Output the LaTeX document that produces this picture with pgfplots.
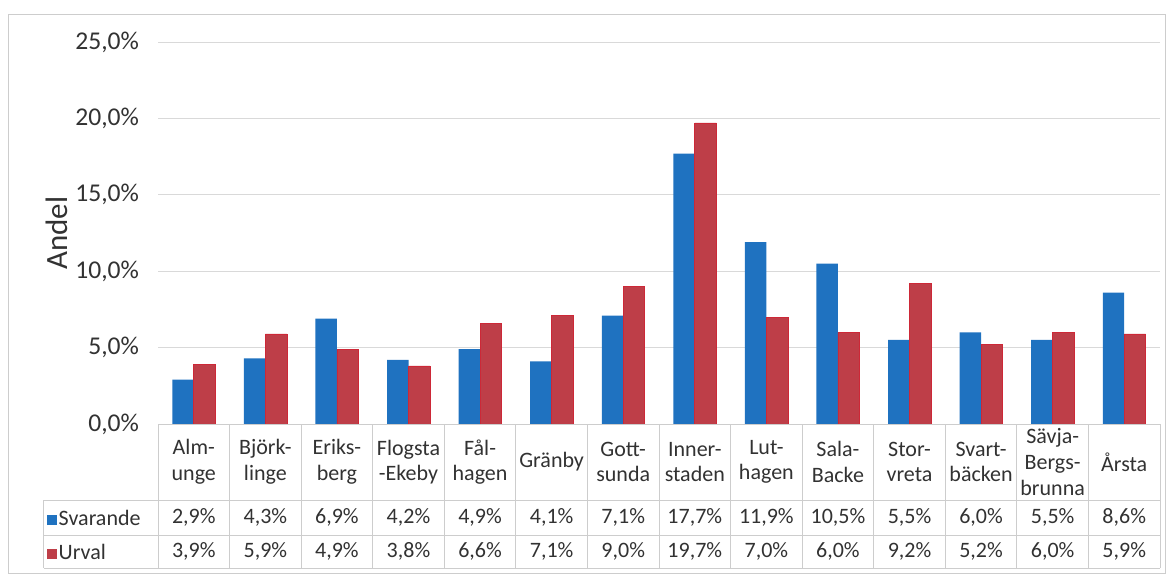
\documentclass[border=0pt]{standalone}
\usepackage{pgfplots}
\pgfplotsset{compat=1.18}
\usepackage{pgfplotstable}
\usepackage{fontspec}
\setmainfont{Carlito}
\definecolor{cblue}{RGB}{31,114,192}
\definecolor{cred}{RGB}{190,62,72}
\definecolor{credge}{RGB}{205,40,55}
\definecolor{ctext}{RGB}{50,50,50}
\definecolor{cgrid}{RGB}{217,217,217}
\definecolor{cline}{RGB}{205,205,205}
\newcommand\tabfont{\fontsize{11}{12.8}\selectfont}
\pgfplotsset{/pgf/number format/assume math mode=true}
\pgfplotstableread{
i s u
0 2.9 3.9
1 4.3 5.9
2 6.9 4.9
3 4.2 3.8
4 4.9 6.6
5 4.1 7.1
6 7.1 9.0
7 17.7 19.7
8 11.9 7.0
9 10.5 6.0
10 5.5 9.2
11 6.0 5.2
12 5.5 6.0
13 8.6 5.9
}\data
\begin{document}
\begin{tikzpicture}
\path[use as bounding box] (0,0) rectangle (585.5pt,-288.5pt);
\draw[cline, line width=0.4pt] (4pt,-7pt) rectangle (582.5pt,-286.5pt);
\begin{axis}[
  at={(79pt,-212pt)}, anchor=south west,
  scale only axis, width=501pt, height=191pt,
  clip=false,
  xmin=-0.5, xmax=13.5, ymin=0, ymax=25,
  ytick={0,5,10,15,20,25},
  yticklabel={\pgfmathprintnumber[fixed,fixed zerofill,precision=1,use comma]{\tick}\%},
  yticklabel style={font=\fontsize{12.8}{14}\selectfont, text=ctext, anchor=east, xshift=-6pt},
  xtick=data,
  xticklabels={{Alm-\\unge},{Björk-\\linge},{Eriks-\\berg},{Flogsta\\-Ekeby},{Fål-\\hagen},{Gränby},{Gott-\\sunda},{Inner-\\staden},{Lut-\\hagen},{Sala-\\Backe},{Stor-\\vreta},{Svart-\\bäcken},{Sävja-\\Bergs-\\brunna},{Årsta}},
  xticklabel style={font=\tabfont, text=ctext, align=center, anchor=center, yshift=-19pt},
  major tick length=0pt,
  axis line style={draw=none},
  ymajorgrids, grid style={cgrid, line width=0.5pt},
  ylabel={Andel},
  ylabel style={font=\fontsize{15.5}{17}\selectfont, text=ctext, at={(axis description cs:-0.101,0.5)}, anchor=center},
]
\addplot[ybar, bar width=0.3, bar shift=-0.15, fill=cblue, draw=none] table[x=i,y=s]{\data};
\addplot[ybar, bar width=0.3, bar shift=0.15, fill=cred, draw=credge, line width=0.3pt] table[x=i,y=u]{\data};
% table lines
\draw[cline, line width=0.5pt] (axis cs:-0.5,0) -- (axis cs:13.5,0);
\draw[cline, line width=0.5pt] (axis cs:-2.093,-4.974) -- (axis cs:13.5,-4.974);
\draw[cline, line width=0.5pt] (axis cs:-2.093,-7.265) -- (axis cs:13.5,-7.265);
\draw[cline, line width=0.5pt] (axis cs:-2.093,-9.425) -- (axis cs:13.5,-9.425);
\draw[cline, line width=0.5pt] (axis cs:-2.093,-4.974) -- (axis cs:-2.093,-9.425);
\draw[cline, line width=0.5pt] (axis cs:13.5,0) -- (axis cs:13.5,-9.425);
\node[anchor=west, font=\tabfont, text=ctext, inner sep=0pt] at (axis cs:-2.06,-6.12) {{\color{cblue}\rule{5pt}{5pt}}\kern1pt Svarande};
\node[anchor=west, font=\tabfont, text=ctext, inner sep=0pt] at (axis cs:-2.06,-8.35) {{\color{cred}\rule{5pt}{5pt}}\kern1pt Urval};
\pgfplotsinvokeforeach{0,...,13}{
  \draw[cline, line width=0.5pt] (axis cs:#1-0.5,0) -- (axis cs:#1-0.5,-9.425);
  \pgfplotstablegetelem{#1}{s}\of\data
  \edef\tmp{\noexpand\node[font=\noexpand\tabfont, text=ctext] at (axis cs:#1,-6.12) {\noexpand\pgfmathprintnumber[fixed,fixed zerofill,precision=1,use comma]{\pgfplotsretval}\noexpand\%};}
  \tmp
  \pgfplotstablegetelem{#1}{u}\of\data
  \edef\tmp{\noexpand\node[font=\noexpand\tabfont, text=ctext] at (axis cs:#1,-8.35) {\noexpand\pgfmathprintnumber[fixed,fixed zerofill,precision=1,use comma]{\pgfplotsretval}\noexpand\%};}
  \tmp
}
\end{axis}
\end{tikzpicture}
\end{document}
